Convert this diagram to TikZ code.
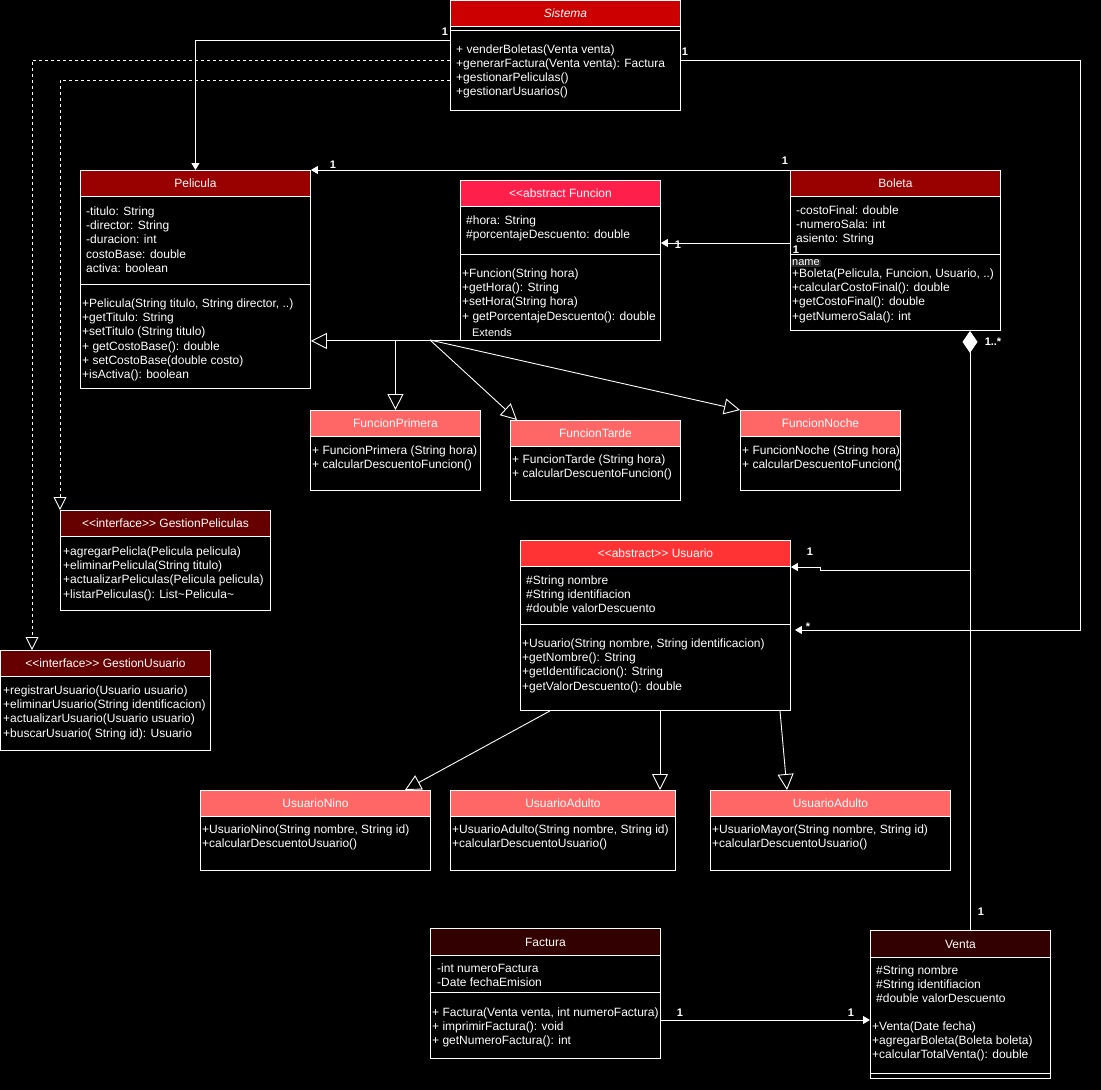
\documentclass[tikz,border=0pt]{standalone}
\usepackage{fontspec}
\setmainfont{Liberation Sans}
\usetikzlibrary{arrows.meta}

\definecolor{sistemaRed}{HTML}{CC0000}
\definecolor{darkRed}{HTML}{990000}
\definecolor{funcionPink}{HTML}{FF1F4B}
\definecolor{subRed}{HTML}{FF6666}
\definecolor{ifaceRed}{HTML}{660000}
\definecolor{usuarioRed}{HTML}{FF3333}
\definecolor{ventaRed}{HTML}{330000}

\tikzset{
  classbox/.style={draw=white, fill=black, line width=0.9pt, anchor=north west, inner sep=0pt},
  headbox/.style={draw=white, line width=0.9pt, anchor=north west, inner sep=0pt,
    minimum height=26pt, text=white, font=\fontsize{12}{14}\selectfont},
  members/.style={anchor=north west, inner sep=0pt, align=left, text=white,
    font=\fontsize{12}{14.2}\selectfont},
  sepline/.style={draw=white, line width=0.9pt},
  mult/.style={text=white, inner sep=1pt, font=\bfseries\fontsize{11}{13}\selectfont},
  smalllabel/.style={text=white, inner sep=1pt, font=\fontsize{11}{13}\selectfont},
  assoc/.style={draw=white, line width=0.9pt, -{Triangle[length=7pt,width=8pt]}},
  extends/.style={draw=white, line width=0.9pt, -{Triangle[open,length=16pt,width=16pt,fill=black]}},
  realize/.style={draw=white, line width=0.9pt, dash pattern=on 3pt off 3pt,
    -{Triangle[open,length=13pt,width=13pt,fill=black]}},
  compose/.style={draw=white, line width=0.9pt, {Diamond[length=22pt,width=15pt,fill=white]}-},
}

\begin{document}
\begin{tikzpicture}[x=1pt,y=-1pt]
\useasboundingbox (0,0) rectangle (1101,1090);
\fill[black] (0,0) rectangle (1101,1090);

% Sistema
\node[classbox, minimum width=230pt, minimum height=110pt] (sistema) at (450,0) {};
\node[headbox, fill=sistemaRed, minimum width=230pt] (sistema-t) at (sistema.north west) {\textit{Sistema}};
\draw[sepline] (450,30) -- (680,30);
\node[members, font=\fontsize{12}{14}\selectfont] (sistema-m) at (456,44.5) {+ venderBoletas(Venta venta)\\+generarFactura(Venta venta): Factura\\+gestionarPeliculas()\\+gestionarUsuarios()};

% Pelicula
\node[classbox, minimum width=230pt, minimum height=218pt] (pelicula) at (80,170) {};
\node[headbox, fill=darkRed, minimum width=230pt] (pelicula-t) at (pelicula.north west) {Pelicula};
\draw[sepline] (80,284) -- (310,284);
\node[members] (pelicula-a) at (86,206.5) {-titulo: String\\-director: String\\-duracion: int\\costoBase: double\\activa: boolean};
\node[members] (pelicula-m) at (82,298.5) {+Pelicula(String titulo, String director, ..)\\+getTitulo: String\\+setTitulo (String titulo)\\+ getCostoBase(): double\\+ setCostoBase(double costo)\\+isActiva(): boolean};

% Funcion
\node[classbox, minimum width=200pt, minimum height=160pt] (funcion) at (460,180) {};
\node[headbox, fill=funcionPink, minimum width=200pt] (funcion-t) at (funcion.north west) {<{}<abstract Funcion};
\draw[sepline] (460,254) -- (660,254);
\node[members] (funcion-a) at (466,215.5) {\#hora: String\\\#porcentajeDescuento: double};
\node[members] (funcion-m) at (462,268.5) {+Funcion(String hora)\\+getHora(): String\\+setHora(String hora)\\+ getPorcentajeDescuento(): double};

% Boleta
\node[classbox, minimum width=210pt, minimum height=160pt] (boleta) at (790,170) {};
\node[headbox, fill=darkRed, minimum width=210pt] (boleta-t) at (boleta.north west) {Boleta};
\draw[sepline] (790,254) -- (1000,254);
\node[members] (boleta-a) at (796,205.5) {-costoFinal: double\\-numeroSala: int\\asiento: String};
\node[smalllabel, fill=black!85!white] (boleta-name) at (806,263) {name};
\node[members] (boleta-m) at (792,268.5) {+Boleta(Pelicula, Funcion, Usuario, ..)\\+calcularCostoFinal(): double\\+getCostoFinal(): double\\+getNumeroSala(): int};

% subclases de Funcion
\node[classbox, minimum width=170pt, minimum height=80pt] (fprimera) at (310,410) {};
\node[headbox, fill=subRed, minimum width=170pt] (fprimera-t) at (fprimera.north west) {FuncionPrimera};
\node[members] (fprimera-m) at (312,445.5) {+ FuncionPrimera (String hora)\\+ calcularDescuentoFuncion()};

\node[classbox, minimum width=170pt, minimum height=80pt] (ftarde) at (510,420) {};
\node[headbox, fill=subRed, minimum width=170pt] (ftarde-t) at (ftarde.north west) {FuncionTarde};
\node[members] (ftarde-m) at (512,454.5) {+ FuncionTarde (String hora)\\+ calcularDescuentoFuncion()};

\node[classbox, minimum width=160pt, minimum height=80pt] (fnoche) at (740,410) {};
\node[headbox, fill=subRed, minimum width=160pt] (fnoche-t) at (fnoche.north west) {FuncionNoche};
\node[members] (fnoche-m) at (742,445.5) {+ FuncionNoche (String hora)\\+ calcularDescuentoFuncion()};

% interfaces
\node[classbox, minimum width=210pt, minimum height=100pt] (gpeliculas) at (60,510) {};
\node[headbox, fill=ifaceRed, minimum width=210pt] (gpeliculas-t) at (gpeliculas.north west) {<{}<interface>{}> GestionPeliculas};
\node[members] (gpeliculas-m) at (63,546.5) {+agregarPelicla(Pelicula pelicula)\\+eliminarPelicula(String titulo)\\+actualizarPeliculas(Pelicula pelicula)\\+listarPeliculas(): List\textasciitilde Pelicula\textasciitilde};

\node[classbox, minimum width=210pt, minimum height=100pt] (gusuario) at (0,650) {};
\node[headbox, fill=ifaceRed, minimum width=210pt] (gusuario-t) at (gusuario.north west) {<{}<interface>{}> GestionUsuario};
\node[members] (gusuario-m) at (3,685.5) {+registrarUsuario(Usuario usuario)\\+eliminarUsuario(String identificacion)\\+actualizarUsuario(Usuario usuario)\\+buscarUsuario( String id): Usuario};

% Usuario
\node[classbox, minimum width=270pt, minimum height=170pt] (usuario) at (520,540) {};
\node[headbox, fill=usuarioRed, minimum width=270pt] (usuario-t) at (usuario.north west) {<{}<abstract>{}> Usuario};
\draw[sepline] (520,624) -- (790,624);
\node[members] (usuario-a) at (526,575.5) {\#String nombre\\\#String identifiacion\\\#double valorDescuento};
\node[members] (usuario-m) at (522,638.5) {+Usuario(String nombre, String identificacion)\\+getNombre(): String\\+getIdentificacion(): String\\+getValorDescuento(): double};

% subclases de Usuario
\node[classbox, minimum width=230pt, minimum height=80pt] (unino) at (200,790) {};
\node[headbox, fill=subRed, minimum width=230pt] (unino-t) at (unino.north west) {UsuarioNino};
\node[members] (unino-m) at (202,824.5) {+UsuarioNino(String nombre, String id)\\+calcularDescuentoUsuario()};

\node[classbox, minimum width=225pt, minimum height=80pt] (uadulto) at (450,790) {};
\node[headbox, fill=subRed, minimum width=225pt] (uadulto-t) at (uadulto.north west) {UsuarioAdulto};
\node[members] (uadulto-m) at (452,824.5) {+UsuarioAdulto(String nombre, String id)\\+calcularDescuentoUsuario()};

\node[classbox, minimum width=240pt, minimum height=80pt] (umayor) at (710,790) {};
\node[headbox, fill=subRed, minimum width=240pt] (umayor-t) at (umayor.north west) {UsuarioAdulto};
\node[members] (umayor-m) at (712,824.5) {+UsuarioMayor(String nombre, String id)\\+calcularDescuentoUsuario()};

% Factura y Venta
\node[classbox, minimum width=230pt, minimum height=130pt] (factura) at (430,928) {};
\node[headbox, fill=ventaRed, minimum width=230pt, minimum height=27pt] (factura-t) at (factura.north west) {Factura};
\draw[sepline] (430,992) -- (660,992);
\node[members] (factura-a) at (437,963.5) {-int numeroFactura\\-Date fechaEmision};
\node[members] (factura-m) at (432,1007.5) {+ Factura(Venta venta, int numeroFactura)\\+ imprimirFactura(): void\\+ getNumeroFactura(): int};

\node[classbox, minimum width=180pt, minimum height=148pt] (venta) at (870,930) {};
\node[headbox, fill=ventaRed, minimum width=180pt, minimum height=27pt] (venta-t) at (venta.north west) {Venta};
\draw[sepline] (870,1073) -- (1050,1073);
\node[members] (venta-a) at (876,965.5) {\#String nombre\\\#String identifiacion\\\#double valorDescuento};
\node[members] (venta-m) at (872,1021.5) {+Venta(Date fecha)\\+agregarBoleta(Boleta boleta)\\+calcularTotalVenta(): double};

% relaciones
\draw[assoc] ([yshift=-40pt]sistema.north west) -| (pelicula.north);
\draw[realize] ([yshift=-60pt]sistema.north west) -| ([xshift=32pt]gusuario.north west);
\draw[realize] ([yshift=-80pt]sistema.north west) -| (gpeliculas.north west);
\coordinate (loopR) at (1080,630);
\draw[assoc] ([yshift=-60pt]sistema.north east) -| (loopR) -- ([xshift=4pt,yshift=-90pt]usuario.north east);

\draw[assoc] (boleta.north west) -- (pelicula.north east);
\draw[assoc] ([yshift=-73pt]boleta.north west) -- ([yshift=-63pt]funcion.north east);

\coordinate (extHub) at (430,340);
\draw[extends] ([xshift=14pt]funcion.south west) -- (pelicula.east |- funcion.south);
\draw[extends] (fprimera.north |- funcion.south) -- (fprimera.north);
\draw[extends] (extHub) -- ([xshift=7pt]ftarde.north west);
\draw[extends] (extHub) -- (fnoche.north west);
\node[smalllabel, fill=black] (ext-label) at (492,333) {Extends};

\draw[extends] ([xshift=30pt]usuario.south west) -- ([xshift=205pt]unino.north west);
\draw[extends] ([xshift=140pt]usuario.south west) -- ([xshift=210pt]uadulto.north west);
\draw[extends] ([xshift=260pt]usuario.south west) -- ([xshift=77pt]umayor.north west);

\draw[compose] ([xshift=180pt]boleta.south west) -- ([xshift=100pt]venta.north west);
\coordinate (brU) at (970,570);
\coordinate (jogU) at (820,570);
\draw[assoc] (brU) -- (jogU) -- ++(0,-3) -- ([yshift=-27pt]usuario.north east);

\draw[assoc] ([yshift=-92pt]factura.north east) -- ([yshift=-90pt]venta.north west);

% multiplicidades
\node[mult] (m1) at (445,32) {1};
\node[mult] (m2) at (685,52) {1};
\node[mult] (m3) at (333,165) {1};
\node[mult] (m4) at (785,161) {1};
\node[mult] (m5) at (678,245) {1};
\node[mult, inner sep=0pt] (m6) at (796,250) {1};
\node[mult] (m7) at (993,342) {1..*};
\node[mult] (m8) at (810,552) {1};
\node[mult] (m9) at (808,627) {*};
\node[mult] (m10) at (981,912) {1};
\node[mult] (m11) at (680,1013) {1};
\node[mult] (m12) at (851,1013) {1};
\end{tikzpicture}
\end{document}
